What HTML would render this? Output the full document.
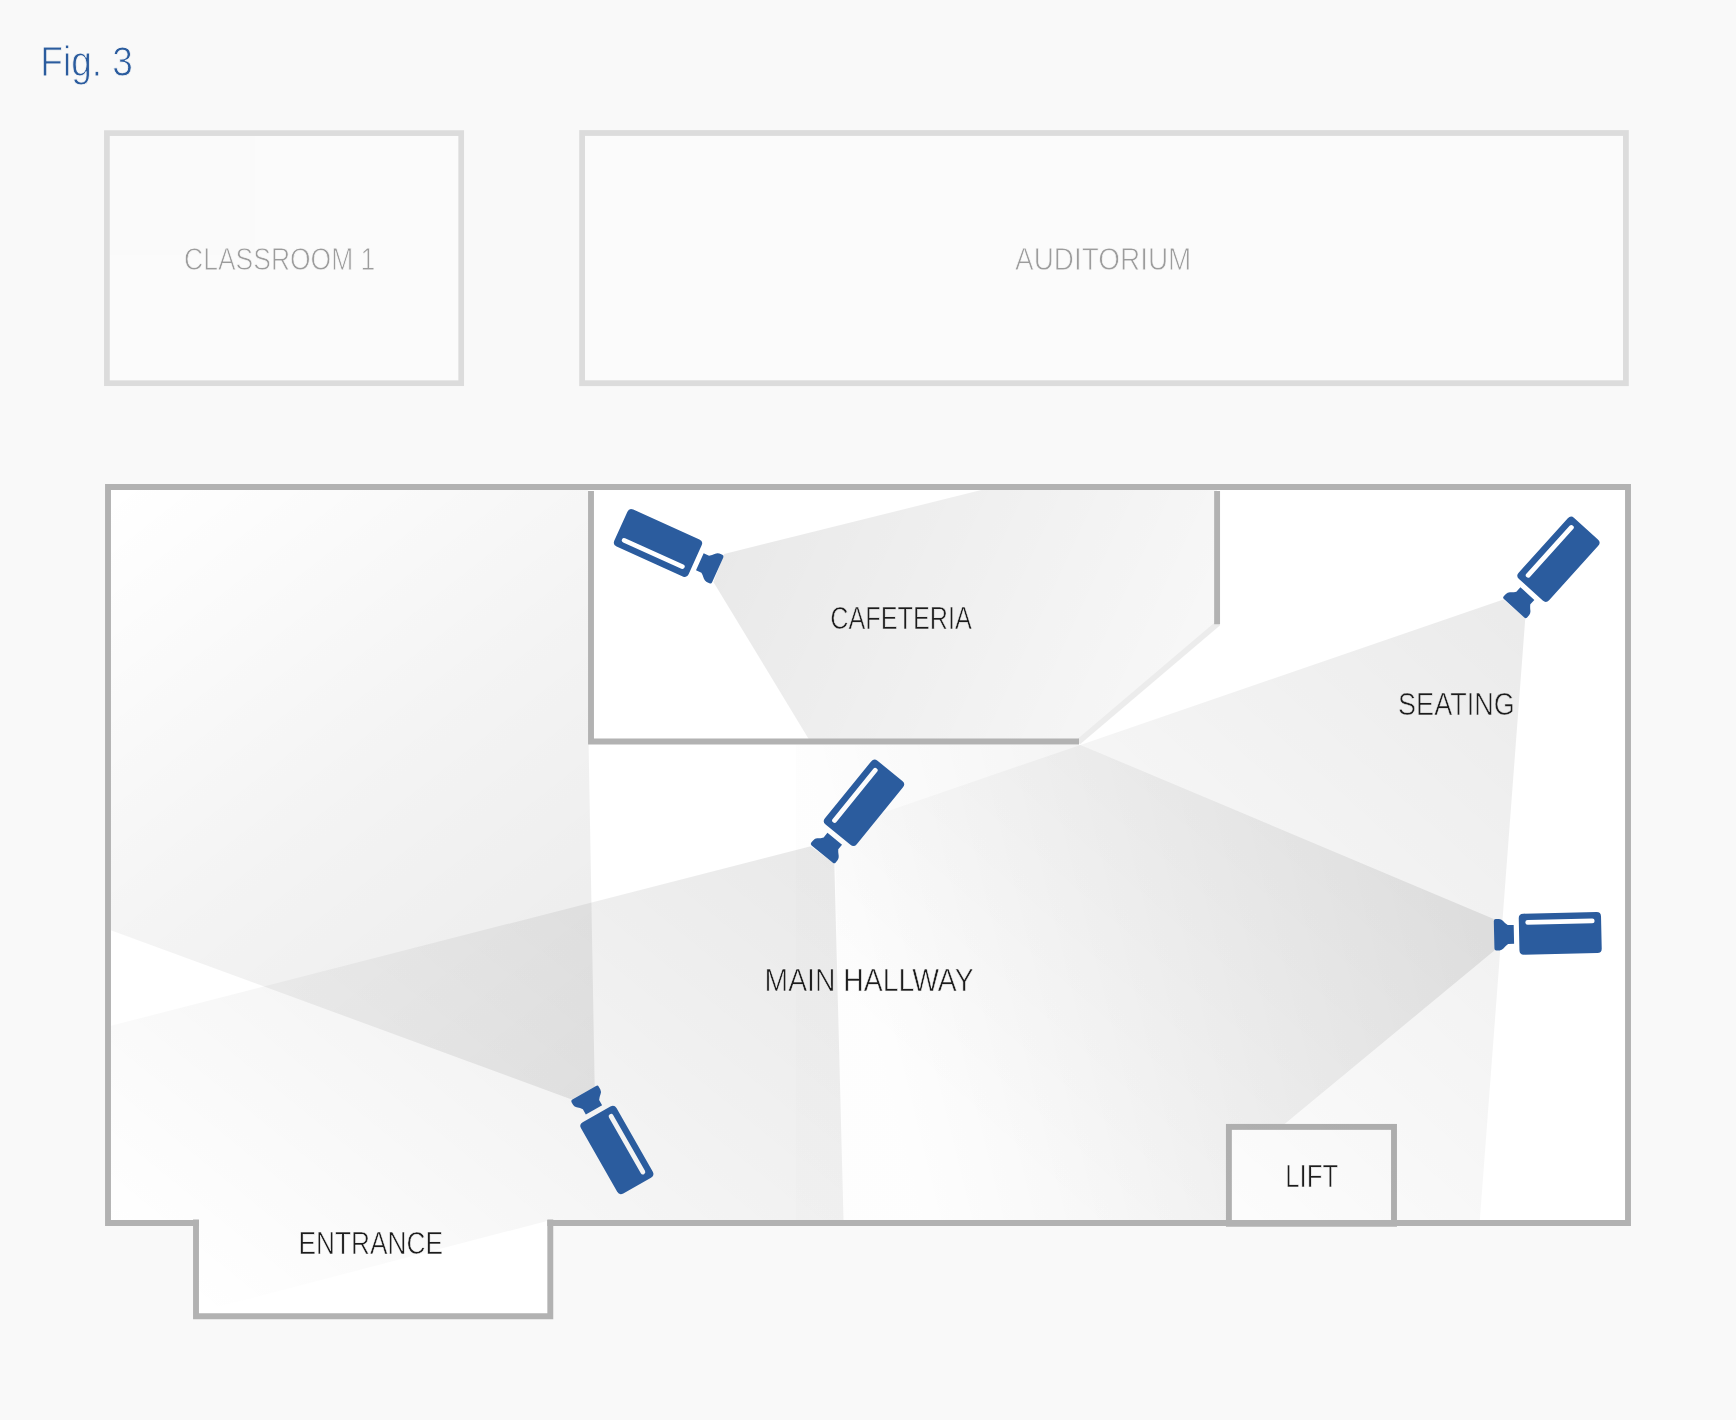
<!DOCTYPE html>
<html>
<head>
<meta charset="utf-8">
<title>Fig. 3</title>
<style>
  html, body { margin: 0; padding: 0; background: #f9f9f9; }
  body { width: 1736px; height: 1420px; overflow: hidden; font-family: "Liberation Sans", sans-serif; }
  svg { display: block; will-change: transform; opacity: 0.9999; }
  text { font-family: "Liberation Sans", sans-serif; }
</style>
</head>
<body>
<svg width="1736" height="1420" viewBox="0 0 1736 1420">
  <defs>
    <!-- camera: lens tip at origin, pointing +x -->
    <g id="cam">
      <path fill="#2b5c9e" d="M0,-13.7 Q0,-15.75 -2,-15.75 L-5.2,-15.7 Q-7.4,-15.5 -9,-13.9 Q-11.4,-11 -13.8,-9.4 L-19.8,-9.4 L-19.8,9.4 L-13.8,9.4 Q-11.4,11 -9,13.9 Q-7.4,15.5 -5.2,15.7 L-2,15.75 Q0,15.75 0,13.7 Z"/>
      <path fill="#2b5c9e" fill-rule="evenodd" d="M-102.8,-20.5 L-29.5,-20.5 Q-25,-20.5 -25,-16 L-25,16 Q-25,20.5 -29.5,20.5 L-102.8,20.5 Q-107.3,20.5 -107.3,16 L-107.3,-16 Q-107.3,-20.5 -102.8,-20.5 Z
               M-98.4,9.3 L-33.9,9.3 A2.4,2.4 0 0 1 -33.9,14.1 L-98.4,14.1 A2.4,2.4 0 0 1 -98.4,9.3 Z"/>
    </g>

    <linearGradient id="gCaf" gradientUnits="userSpaceOnUse" x1="716.9" y1="569.2" x2="1380" y2="874">
      <stop offset="0" stop-color="#000" stop-opacity="0.086"/>
      <stop offset="1" stop-color="#000" stop-opacity="0"/>
    </linearGradient>
    <linearGradient id="gSeat" gradientUnits="userSpaceOnUse" x1="1514.3" y1="607.6" x2="1011.5" y2="1164.1">
      <stop offset="0" stop-color="#000" stop-opacity="0.08"/>
      <stop offset="1" stop-color="#000" stop-opacity="0"/>
    </linearGradient>
    <linearGradient id="gMid" gradientUnits="userSpaceOnUse" x1="823" y1="853.3" x2="350" y2="1435.3">
      <stop offset="0" stop-color="#000" stop-opacity="0.086"/>
      <stop offset="1" stop-color="#000" stop-opacity="0"/>
    </linearGradient>
    <linearGradient id="gRight" gradientUnits="userSpaceOnUse" x1="1494.1" y1="934.8" x2="885.9" y2="1086.5">
      <stop offset="0" stop-color="#000" stop-opacity="0.088"/>
      <stop offset="1" stop-color="#000" stop-opacity="0.007"/>
    </linearGradient>
    <linearGradient id="gBL" gradientUnits="userSpaceOnUse" x1="584.7" y1="1092.5" x2="111" y2="490">
      <stop offset="0" stop-color="#000" stop-opacity="0.082"/>
      <stop offset="0.5" stop-color="#000" stop-opacity="0.045"/>
      <stop offset="1" stop-color="#000" stop-opacity="0"/>
    </linearGradient>

    <clipPath id="floorClip">
      <path d="M108,487 H1628 V1223 H550.3 V1316.2 H196 V1223 H108 Z"/>
    </clipPath>
  </defs>

  <!-- page background -->
  <rect x="0" y="0" width="1736" height="1420" fill="#f9f9f9"/>

  <!-- title -->
  <text x="40.3" y="75.9" font-size="42.3" fill="#2b5c9e" stroke="#f9f9f9" stroke-width="0.85" opacity="0.999" textLength="92.6" lengthAdjust="spacingAndGlyphs">Fig. 3</text>

  <!-- upper rooms -->
  <rect x="106.9" y="133.1" width="354.3" height="250.1" fill="#fbfbfb" stroke="#dcdcdc" stroke-width="5.7"/>
  <rect x="582.1" y="133" width="1043.8" height="250.2" fill="#fbfbfb" stroke="#dcdcdc" stroke-width="5.8"/>
  <text x="184.1" y="270.1" font-size="31" fill="#9c9c9c" stroke="#fbfbfb" stroke-width="0.8" opacity="0.999" textLength="191.2" lengthAdjust="spacingAndGlyphs">CLASSROOM 1</text>
  <text x="1015.1" y="270.1" font-size="31" fill="#9c9c9c" stroke="#fbfbfb" stroke-width="0.8" opacity="0.999" textLength="176.2" lengthAdjust="spacingAndGlyphs">AUDITORIUM</text>

  <!-- floor -->
  <path d="M108,487 H1628 V1223 H550.3 V1316.2 H196 V1223 H108 Z" fill="#ffffff"/>

  <!-- view cones (below the lift) -->
  <g clip-path="url(#floorClip)">
    <!-- bottom-left camera -->
    <polygon fill="url(#gBL)" points="571.7,1099.4 108,929.2 108,487 588.3,487 588.6,745 594.7,1087"/>
    <!-- cafeteria camera -->
    <polygon fill="url(#gCaf)" points="724.2,554 989.3,488 1217,488 1217,624.2 1079,741.5 810.2,741.5 713.4,582"/>
    <!-- right camera -->
    <polygon fill="url(#gRight)" points="1493.8,919 1080.4,744.9 796,744.9 796,1223 1228.9,1223 1228.9,1124 1284.6,1124 1494.4,950.5"/>
    <!-- mid camera -->
    <polygon fill="url(#gMid)" points="810.8,846.2 108,1026.5 108,1223 196,1223 196,1312.6 548,1220.7 843.6,1223 834.3,863.6"/>
  </g>

  <!-- lift -->
  <rect x="1228.9" y="1126.9" width="165.1" height="96.9" fill="#ffffff" stroke="#b2b2b2" stroke-width="5.9"/>

  <!-- seating camera cone (overlays the lift) -->
  <g clip-path="url(#floorClip)">
    <polygon fill="url(#gSeat)" points="1503.4,599.4 1080.4,744.9 835,829.3 843,1223 1479.6,1223 1525.3,618.1"/>
  </g>

  <!-- diagonal light wall (drawn under the dark walls) -->
  <line x1="1218.3" y1="623.2" x2="1078.2" y2="742.2" stroke="#ececec" stroke-width="5.7"/>

  <!-- walls -->
  <g fill="none" stroke="#b2b2b2" stroke-width="5.9" stroke-linejoin="miter">
    <!-- cafeteria -->
    <polyline points="591,491 591,741.5 1079,741.5" />
    <line x1="1217.1" y1="491" x2="1217.1" y2="624.2"/>
    <!-- outer -->
    <path d="M198.95,1223 H108 V487 H1628 V1223 H547.35"/>
    <!-- entrance -->
    <polyline points="196,1219.4 196,1316.2 550.3,1316.2 550.3,1219.4"/>
  </g>

  <!-- cameras -->
  <use href="#cam" transform="translate(717.7,569.9) rotate(24.3) scale(0.99)"/>
  <use href="#cam" transform="translate(1514.1,608.3) rotate(132.1)"/>
  <use href="#cam" transform="translate(822.25,854.1) rotate(129.1)"/>
  <use href="#cam" transform="translate(1494.1,934.8) rotate(178.75)"/>
  <use href="#cam" transform="translate(584.2,1092.7) rotate(-119.7) scale(0.996)"/>

  <!-- labels -->
  <g font-size="31" fill="#1c1c1c" stroke-width="0.6" opacity="0.999">
    <text x="830.3" y="628.7" stroke="#efefef" textLength="141.4" lengthAdjust="spacingAndGlyphs">CAFETERIA</text>
    <text x="1398.1" y="714.8" stroke="#eeeeee" textLength="116.6" lengthAdjust="spacingAndGlyphs">SEATING</text>
    <text x="764.6" y="991.4" stroke="#f6f6f6" textLength="209" lengthAdjust="spacingAndGlyphs">MAIN HALLWAY</text>
    <text x="1285.3" y="1187" stroke="#fafafa" textLength="52.9" lengthAdjust="spacingAndGlyphs">LIFT</text>
    <text x="298.6" y="1254.1" stroke="#fcfcfc" textLength="144.4" lengthAdjust="spacingAndGlyphs">ENTRANCE</text>
  </g>
</svg>
</body>
</html>
